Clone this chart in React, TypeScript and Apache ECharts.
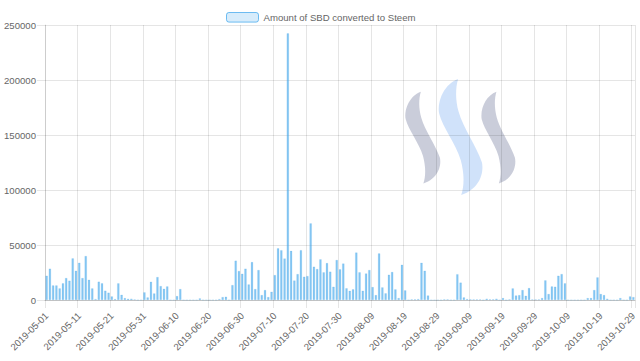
import React, { useEffect, useRef } from "react";
import * as echarts from "echarts";

const startDate = "2019-05-01";
const endDate = "2019-10-29";
const skippedDates = ["2019-08-31"];

function buildCategories(): string[] {
  const out: string[] = [];
  const d = new Date(startDate + "T00:00:00Z");
  const end = new Date(endDate + "T00:00:00Z");
  while (d.getTime() <= end.getTime()) {
    const s = d.toISOString().slice(0, 10);
    if (skippedDates.indexOf(s) < 0) out.push(s);
    d.setUTCDate(d.getUTCDate() + 1);
  }
  return out;
}

const categories = buildCategories();

const sbdConverted = [
  22100, 28500, 13300, 13300, 10600, 15200, 20000, 17600, 37900, 26700,
  33900, 20000, 40000, 18500, 10600, 900, 16700, 15200, 8500, 6700,
  3300, 900, 15200, 4800, 1800, 1200, 1200, 600, 0, 0,
  7000, 2400, 16700, 6000, 20900, 12700, 10300, 12400, 0, 0,
  3600, 10000, 0, 0, 0, 0, 0, 1500, 0, 0,
  0, 0, 0, 900, 2700, 3000, 0, 13600, 35800, 26400,
  23900, 28500, 14200, 34500, 10000, 27300, 4500, 9100, 2700, 7600,
  22700, 47000, 45300, 37800, 242400, 44700, 17800, 23600, 45300, 21200,
  21800, 69700, 30300, 28200, 37000, 25200, 33600, 25800, 12100, 36400,
  28000, 33200, 10700, 8400, 9700, 43200, 25200, 8500, 24200, 27300,
  11800, 4500, 42400, 11500, 6100, 23000, 25500, 9700, 1800, 32100,
  8800, 0, 600, 600, 900, 33900, 26700, 4200, 0, 0,
  0, 0, 600, 600, 0, 0, 23500, 15800, 2400, 900,
  600, 600, 600, 600, 0, 1200, 600, 600, 1200, 0,
  1800, 0, 600, 10600, 4200, 4500, 9100, 3900, 10900, 600,
  600, 600, 1800, 17900, 5500, 12400, 12100, 22100, 23600, 15200,
  0, 0, 0, 0, 0, 0, 1800, 1800, 9100, 20600,
  5500, 4500, 1200, 0, 0, 0, 1800, 0, 0, 3300,
  2700,
];

const seriesName = "Amount of SBD converted to Steem";

const swooshPath =
  "M44 0 C38 8 38 18 45 28 C55 42 85 58 97 72 C102 82 90 95 51 100 C58 92 58 82 50 70 C38 55 10 42 2 30 C-3 18 15 4 44 0 Z";

let registered = false;
function ensureShape() {
  if (registered) return;
  echarts.graphic.registerShape("steemSwoosh", echarts.graphic.extendPath(swooshPath, {}) as any);
  registered = true;
}

const FONT = "'Liberation Sans', Arial, Helvetica, sans-serif";
const GRID_COLOR = "rgba(0,0,0,0.1)";

export default function App() {
  const ref = useRef<HTMLDivElement>(null);
  useEffect(() => {
    document.body.style.margin = "0";
    ensureShape();
    const chart = echarts.init(ref.current!, undefined, { renderer: "svg" });
    const swoosh = (x: number, y: number, w: number, h: number, fill: string) => ({
      type: "steemSwoosh",
      x,
      y,
      scaleX: w / 100,
      scaleY: h / 100,
      silent: true,
      style: { fill },
    });
    chart.setOption({
      animation: false,
      textStyle: { fontFamily: FONT },
      legend: {
        top: 7,
        left: 221,
        itemWidth: 32,
        itemHeight: 9.6,
        itemGap: 10,
        textStyle: { color: "#666", fontSize: 9.6, fontFamily: FONT },
        itemStyle: {
          color: "rgba(54,162,235,0.2)",
          borderColor: "rgba(54,162,235,0.7)",
          borderWidth: 1,
        },
        data: [seriesName],
      },
      grid: { left: 45, right: 5, top: 25, bottom: 61 },
      xAxis: {
        type: "category",
        data: categories,
        boundaryGap: true,
        axisLine: { show: true, lineStyle: { color: "rgba(0,0,0,0.15)" } },
        axisTick: { show: true, interval: 9, length: 8, lineStyle: { color: GRID_COLOR } },
        axisLabel: {
          interval: 9,
          rotate: 45,
          color: "#666",
          fontSize: 9.6,
          fontFamily: FONT,
          margin: 14,
        },
        splitLine: { show: true, interval: 9, lineStyle: { color: GRID_COLOR } },
      },
      yAxis: {
        type: "value",
        min: 0,
        max: 250000,
        interval: 50000,
        axisLine: { show: true, lineStyle: { color: GRID_COLOR } },
        axisTick: { show: true, length: 8, lineStyle: { color: GRID_COLOR } },
        axisLabel: {
          color: "#666",
          fontSize: 9.6,
          fontFamily: FONT,
          margin: 9,
          formatter: (v: number) => String(v),
        },
        splitLine: { show: true, lineStyle: { color: GRID_COLOR } },
      },
      graphic: [
        swoosh(405, 91.7, 36, 91.7, "rgba(60,70,120,0.27)"),
        swoosh(438.3, 79, 45, 116, "rgba(100,160,240,0.3)"),
        swoosh(481, 91.7, 35, 91.7, "rgba(60,70,120,0.27)"),
      ],
      series: [
        {
          name: seriesName,
          type: "bar",
          data: sbdConverted,
          barCategoryGap: "28%",
          itemStyle: {
            color: "rgba(54,162,235,0.6)",
            borderColor: "rgba(54,162,235,0.25)",
            borderWidth: 0.5,
          },
        },
      ],
    });
    return () => chart.dispose();
  }, []);
  return <div ref={ref} style={{ width: 640, height: 361 }} />;
}
